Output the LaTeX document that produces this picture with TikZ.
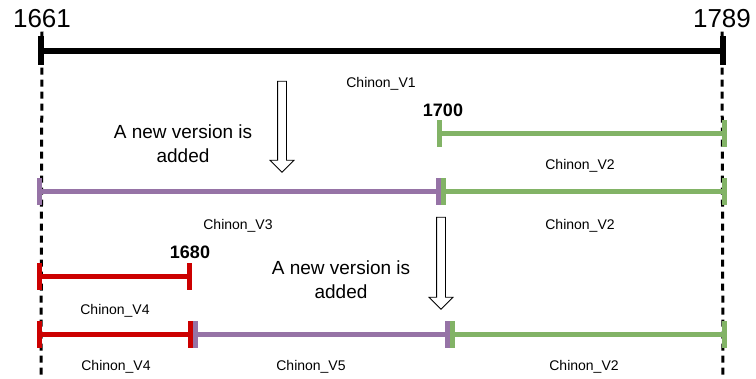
\documentclass[tikz,border=0pt]{standalone}
\usepackage{fontspec}
\setmainfont{Liberation Sans}
\usetikzlibrary{arrows.meta}
\usetikzlibrary{shapes.arrows}

\definecolor{vgreen}{HTML}{82B366}
\definecolor{vpurple}{HTML}{9673A6}
\definecolor{vred}{HTML}{CC0000}

\begin{document}
\begin{tikzpicture}[x=1pt,y=-1pt,
  span/.style={line width=5pt,
    {Rectangle[length=5pt,width=27pt,line width=0pt]}-{Rectangle[length=5pt,width=27pt,line width=0pt]}},
  year/.style={font=\fontsize{26}{28}\selectfont},
  yearb/.style={font=\fontsize{18}{20}\selectfont\bfseries},
  ver/.style={font=\fontsize{14}{16}\selectfont},
  note/.style={align=center,font=\fontsize{19}{24}\selectfont},
  guide/.style={line width=3pt,dash pattern=on 7pt off 5pt},
  down/.style={single arrow,draw,line width=0.8pt,rotate=-90,inner sep=0pt,
    text height=8pt,text depth=0pt,text width=0pt,
    single arrow head extend=7.5pt,single arrow head indent=0pt}]
  \useasboundingbox (0,0) rectangle (756,379);

  \node[year] (y1661) at (42,19) {1661};
  \node[year] (y1789) at (722,19) {1789};
  \coordinate (b1661) at (41,379);
  \coordinate (b1789) at (723,379);
  \draw[guide] (y1661.south) -- (b1661);
  \draw[guide] (y1789.south) -- (b1789);

  \coordinate (t0) at (38,51);
  \coordinate (t1) at (726,51);
  \draw[line width=5.5pt,{Rectangle[length=6pt,width=29pt,line width=0pt]}-{Rectangle[length=6pt,width=29pt,line width=0pt]}] (t0) -- (t1);

  % first version
  \node[ver] (v1) at (381,84) {Chinon\_V1};
  \node[down,minimum height=91pt] (a1) at (282,124.5) {};
  \node[note] (n1) at (183,144) {A new version is\\added};
  \node[yearb] (y1700) at (443,110) {1700};
  \coordinate (g1s) at (437,134);
  \coordinate (g1e) at (727,134);
  \draw[span,vgreen] (g1s) -- (g1e);

  \coordinate (p2s) at (37,192);
  \coordinate (p2e) at (441,192);
  \coordinate (g2e) at (727,192);
  \draw[span,vgreen] (p2e) -- (g2e);
  \draw[span,vpurple] (p2s) -- (p2e);
  \node[ver] (v2a) at (580,166) {Chinon\_V2};
  \node[ver] (v3) at (238,226) {Chinon\_V3};
  \node[ver] (v2b) at (580,226) {Chinon\_V2};

  % second version
  \node[down,minimum height=92pt] (a2) at (441,261) {};
  \node[note] (n2) at (341,280) {A new version is\\added};
  \node[yearb] (y1680) at (190,252) {1680};
  \coordinate (r3s) at (37,277);
  \coordinate (r3e) at (192,277);
  \draw[span,vred] (r3s) -- (r3e);
  \node[ver] (v4a) at (115,311) {Chinon\_V4};

  \coordinate (r4s) at (37,335);
  \coordinate (r4e) at (193,335);
  \coordinate (p4e) at (450,335);
  \coordinate (g4e) at (727,335);
  \draw[span,vred] (r4s) -- (r4e);
  \draw[span,vpurple] (r4e) -- (p4e);
  \draw[span,vgreen] (p4e) -- (g4e);
  \node[ver] (v4b) at (116,367) {Chinon\_V4};
  \node[ver] (v5) at (311,367) {Chinon\_V5};
  \node[ver] (v2c) at (584,367) {Chinon\_V2};
\end{tikzpicture}
\end{document}
